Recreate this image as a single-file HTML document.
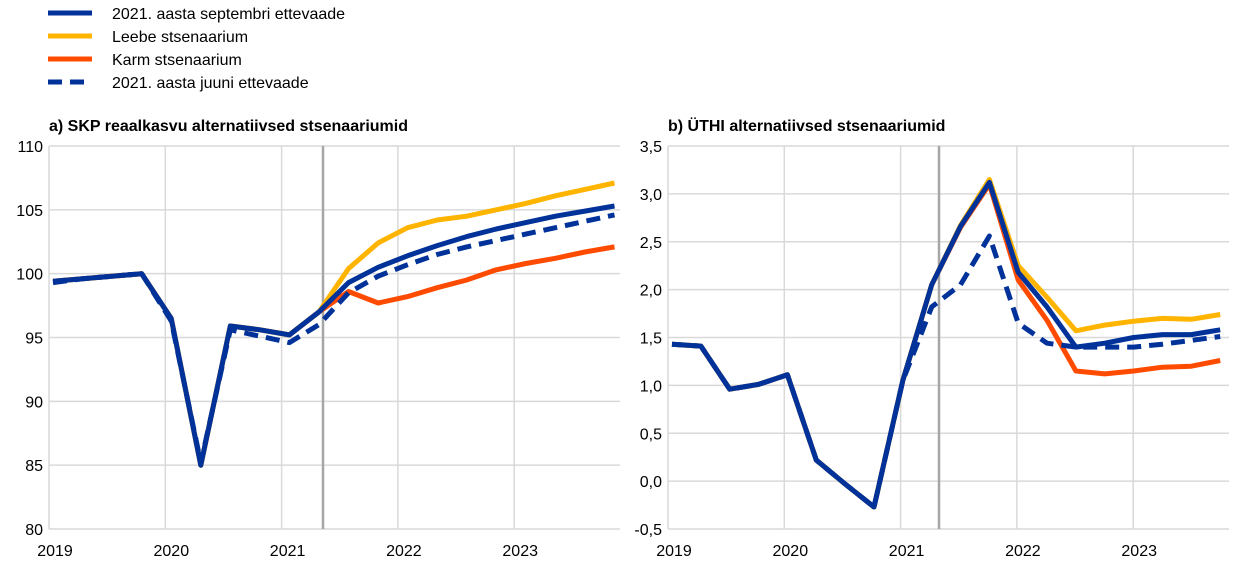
<!DOCTYPE html>
<html><head><meta charset="utf-8"><style>
body{margin:0;background:#fff;width:1240px;height:570px;overflow:hidden;font-family:"Liberation Sans",Arial,sans-serif}
</style></head><body>
<svg id="s" width="1240" height="570" xmlns="http://www.w3.org/2000/svg" font-family="Liberation Sans, Arial, sans-serif">
<g stroke-width="5">
<line x1="48" y1="13" x2="92" y2="13" stroke="#003299"/>
<line x1="48" y1="36" x2="92" y2="36" stroke="#FFB400"/>
<line x1="48" y1="59" x2="92" y2="59" stroke="#FF4B00"/>
<line x1="48" y1="82" x2="92" y2="82" stroke="#003299" stroke-dasharray="14,8"/>
</g>
<g font-size="16" fill="#000">
<text x="112" y="19">2021. aasta septembri ettevaade</text>
<text x="112" y="42">Leebe stsenaarium</text>
<text x="112" y="65">Karm stsenaarium</text>
<text x="112" y="88">2021. aasta juuni ettevaade</text>
<text x="49" y="131" font-weight="bold">a) SKP reaalkasvu alternatiivsed stsenaariumid</text>
<text x="668" y="131" font-weight="bold">b) ÜTHI alternatiivsed stsenaariumid</text>
</g>
<g id="g"></g>
</svg>
<script>
var g=document.getElementById('g'),h='';
function panel(ax,right,x0,dx,ymin,ymax,ystep,vline,fmt,series){
 var top=146,bot=529;
 function Y(v){return bot-(v-ymin)/(ymax-ymin)*(bot-top);}
 for(var v=ymin;v<=ymax+1e-9;v+=ystep){var y=Y(v);
  h+='<line x1="'+ax+'" x2="'+right+'" y1="'+y+'" y2="'+y+'" stroke="#d9d9d9" stroke-width="1.5"/>';
  h+='<text x="'+(ax-6)+'" y="'+(y+6)+'" text-anchor="end" font-size="16">'+fmt(v)+'</text>';}
 for(var k=0;k<5;k++){var x=ax+k*116.3;
  if(k>0)h+='<line x1="'+x+'" x2="'+x+'" y1="'+top+'" y2="'+bot+'" stroke="#d9d9d9" stroke-width="1.5"/>';
  h+='<text x="'+(x+6)+'" y="556" text-anchor="middle" font-size="16">'+(2019+k)+'</text>';}
 h+='<line x1="'+ax+'" x2="'+ax+'" y1="'+top+'" y2="'+bot+'" stroke="#d9d9d9" stroke-width="1.5"/>';
 h+='<line x1="'+vline+'" x2="'+vline+'" y1="'+top+'" y2="'+bot+'" stroke="#a6a6a6" stroke-width="2.5"/>';
 series.forEach(function(s){var p=s.d.map(function(v,i){return (x0+i*dx).toFixed(1)+','+Y(v).toFixed(1)}).join(' ');
  h+='<polyline fill="none" stroke="'+s.c+'" stroke-width="5" stroke-linejoin="round" '+(s.dash?'stroke-dasharray="14,8"':'')+' points="'+p+'"/>';});
}
var sL=[99.4,99.6,99.8,100.0,96.5,85.0,95.9,95.6,95.2,97.0];
panel(49,620,53,29.55,80,110,5,323,function(v){return Math.round(v)},[
 {c:'#FF4B00',d:sL.concat([98.6,97.7,98.2,98.9,99.5,100.3,100.8,101.2,101.7,102.1])},
 {c:'#FFB400',d:sL.concat([100.4,102.4,103.6,104.2,104.5,105.0,105.5,106.1,106.6,107.1])},
 {c:'#003299',dash:1,d:[99.3,99.6,99.8,100.0,96.3,85.2,95.6,95.1,94.6,96.0,98.5,99.8,100.7,101.5,102.1,102.6,103.1,103.6,104.1,104.6]},
 {c:'#003299',d:sL.concat([99.3,100.5,101.4,102.2,102.9,103.5,104.0,104.5,104.9,105.3])}]);
var sR=[1.43,1.41,0.96,1.01,1.11,0.22,-0.03,-0.27,1.05,2.05];
panel(668,1229,672,28.85,-0.5,3.5,0.5,939,function(v){return v.toFixed(1).replace('.',',')},[
 {c:'#FF4B00',d:sR.concat([2.65,3.10,2.10,1.68,1.15,1.12,1.15,1.19,1.20,1.26])},
 {c:'#FFB400',d:sR.concat([2.67,3.15,2.25,1.92,1.57,1.63,1.67,1.70,1.69,1.74])},
 {c:'#003299',dash:1,d:[1.43,1.41,0.96,1.01,1.11,0.22,-0.03,-0.27,1.05,1.82,2.05,2.56,1.65,1.44,1.40,1.40,1.40,1.43,1.47,1.51]},
 {c:'#003299',d:sR.concat([2.66,3.12,2.18,1.82,1.40,1.44,1.50,1.53,1.53,1.58])}]);
g.innerHTML=h;
</script>
</body></html>
